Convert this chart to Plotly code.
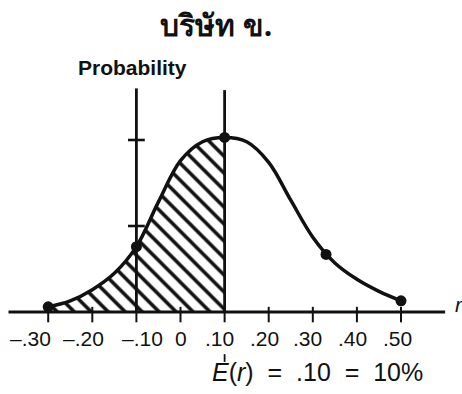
import plotly.graph_objects as go

# Distribution of returns for company B
r_values = [-0.30, -0.25, -0.20, -0.15, -0.10, -0.05, 0.00, 0.05, 0.10,
            0.15, 0.20, 0.25, 0.30, 0.35, 0.40, 0.45, 0.50]
probability = [0.06, 0.13, 0.26, 0.45, 0.76, 1.28, 1.76, 1.98, 2.03,
               1.98, 1.74, 1.30, 0.87, 0.57, 0.38, 0.24, 0.13]

# Marked points on the curve
dot_r = [-0.30, -0.10, 0.10, 0.33, 0.50]
dot_p = [0.06, 0.76, 2.03, 0.67, 0.13]

# Axis ticks and labels
x_ticks = [-0.30, -0.20, -0.10, 0.00, 0.10, 0.20, 0.30, 0.40, 0.50]
x_tick_labels = ["\u2013.30", "\u2013.20", "\u2013.10", "0", ".10", ".20", ".30", ".40", ".50"]
y_ticks = [1, 2]

expected_r = 0.10
shade_from = -0.30
prob_axis_at = -0.10

title_text = "บริษัท ข."
y_title = "Probability"
x_title = "r"
er_text = "<i>E</i>(<i>r</i>)  =  .10  =  10%"

INK = "#111111"
FONT = "Liberation Sans, Arial, sans-serif"

fig = go.Figure()

# hatched area under the curve up to the expected return
shade_x = [x for x in r_values if shade_from <= x <= expected_r]
shade_y = [p for x, p in zip(r_values, probability) if shade_from <= x <= expected_r]
fig.add_trace(go.Scatter(
    x=shade_x, y=shade_y, mode="lines",
    line=dict(width=0, shape="spline", smoothing=1.0),
    fill="tozeroy", fillcolor="white",
    fillpattern=dict(shape="\\", size=12, solidity=0.3,
                     fgcolor=INK, fgopacity=1, bgcolor="white"),
    hoverinfo="skip", showlegend=False,
))

# distribution curve
fig.add_trace(go.Scatter(
    x=r_values, y=probability, mode="lines",
    line=dict(color=INK, width=3.5, shape="spline", smoothing=1.0),
    hoverinfo="skip", showlegend=False,
))

shapes = []
# horizontal r axis
shapes.append(dict(type="line", x0=-0.39, x1=0.60, y0=0, y1=0,
                   line=dict(color=INK, width=2.8)))
for t in x_ticks:
    shapes.append(dict(type="line", x0=t, x1=t, y0=0.06, y1=-0.12,
                       line=dict(color=INK, width=2)))
# probability axis
shapes.append(dict(type="line", x0=prob_axis_at, x1=prob_axis_at, y0=0, y1=2.60,
                   line=dict(color=INK, width=2.8)))
for t in y_ticks:
    shapes.append(dict(type="line", x0=prob_axis_at - 0.019, x1=prob_axis_at + 0.019,
                       y0=t, y1=t, line=dict(color=INK, width=2.6)))
# expected return line
shapes.append(dict(type="line", x0=expected_r, x1=expected_r, y0=0, y1=2.58,
                   line=dict(color=INK, width=2.8)))
# small pointer down to the E(r) note
shapes.append(dict(type="line", x0=expected_r, x1=expected_r, y0=-0.49, y1=-0.58,
                   line=dict(color=INK, width=1.8)))

# dots on the curve
fig.add_trace(go.Scatter(
    x=dot_r, y=dot_p, mode="markers",
    marker=dict(color=INK, size=11),
    hoverinfo="skip", showlegend=False,
))

annotations = []
label_shift = [-18, -9, 6, 0, -5, -4, -5, -4, -4]
for t, lab, dx in zip(x_ticks, x_tick_labels, label_shift):
    annotations.append(dict(x=t, y=-0.31, text=lab, showarrow=False,
                            xanchor="center", yanchor="middle", xshift=dx,
                            font=dict(family=FONT, size=21, color=INK)))
annotations.append(dict(x=expected_r, y=-0.70, text=er_text, showarrow=False,
                        xanchor="left", yanchor="middle", xshift=-15,
                        font=dict(family=FONT, size=25, color=INK)))
annotations.append(dict(x=0.6, y=0.09, text="<i>" + x_title + "</i>", showarrow=False,
                        xanchor="left", yanchor="middle", xshift=8,
                        font=dict(family=FONT, size=21, color=INK)))
annotations.append(dict(x=prob_axis_at, y=2.84, text="<b>" + y_title + "</b>",
                        showarrow=False, xanchor="center", yanchor="middle", xshift=-4,
                        font=dict(family=FONT, size=21, color=INK)))
annotations.append(dict(x=0.4675, y=0.938, xref="paper", yref="paper",
                        text="<b>" + title_text + "</b>", showarrow=False,
                        xanchor="center", yanchor="middle",
                        font=dict(size=30, color=INK)))

fig.update_layout(
    width=462, height=394,
    margin=dict(l=0, r=0, t=0, b=0),
    paper_bgcolor="white", plot_bgcolor="white",
    xaxis=dict(range=[-0.4093, 0.6383], visible=False, fixedrange=True),
    yaxis=dict(range=[-0.9535, 3.6279], visible=False, fixedrange=True),
    shapes=shapes, annotations=annotations,
    showlegend=False,
)

fig.write_html("out.html")
